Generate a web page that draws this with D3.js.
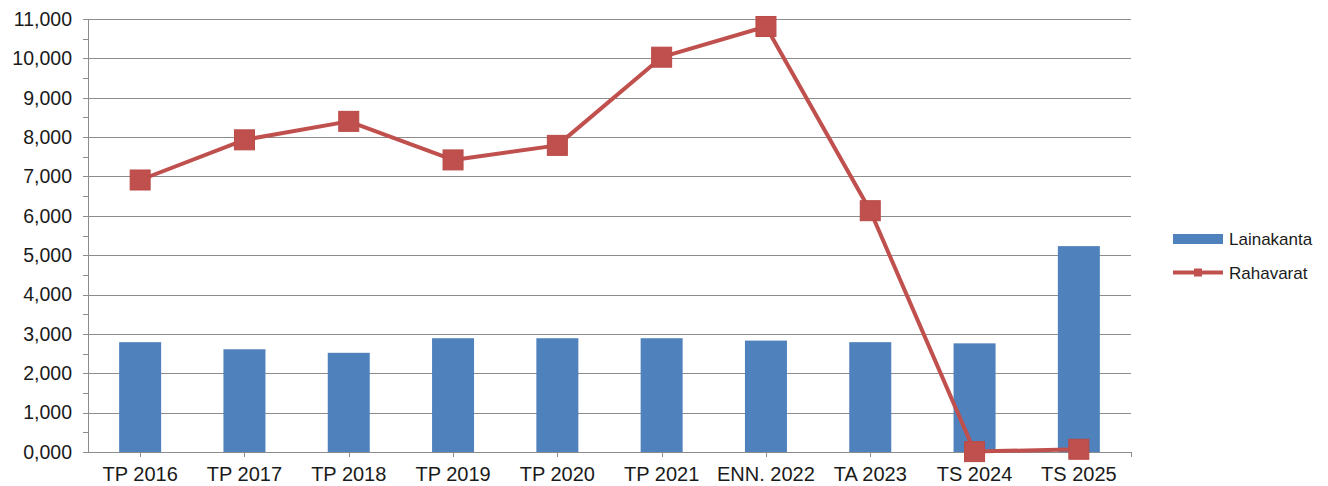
<!DOCTYPE html>
<html>
<head>
<meta charset="utf-8">
<script src="https://cdn.jsdelivr.net/npm/d3@7"></script>
<style>
html,body{margin:0;padding:0;background:#fff;}
svg{display:block;font-family:"Liberation Sans",Arial,sans-serif;}
</style>
</head>
<body>
<svg id="chart" width="1328" height="486"></svg>
<script>
const categories = ["TP 2016","TP 2017","TP 2018","TP 2019","TP 2020","TP 2021","ENN. 2022","TA 2023","TS 2024","TS 2025"];
const lainakanta = [2790, 2610, 2520, 2890, 2890, 2890, 2830, 2790, 2760, 5230];
const rahavarat = [6910, 7930, 8400, 7420, 7790, 10030, 10810, 6130, 10, 70];
const seriesNames = ["Lainakanta","Rahavarat"];
const yTicks = d3.range(0, 11001, 1000);
const yMinorTicks = d3.range(500, 11000, 1000);

(function(){
const svg = d3.select("#chart");
const mLeft = 88, mRight = 1131, mTop = 19, mBottom = 452;

const xc = d3.scalePoint().domain(categories).range([mLeft, mRight]).padding(0.5);
const y = d3.scaleLinear().domain([0, 11000]).range([mBottom, mTop]);

// gridlines
svg.append("g").selectAll("line").data(yTicks.filter(d=>d>0)).join("line")
  .attr("x1", mLeft - 5).attr("x2", mRight)
  .attr("y1", d=>Math.round(y(d))+0.5).attr("y2", d=>Math.round(y(d))+0.5)
  .attr("stroke", "#8c8c8c").attr("stroke-width", 1);

// y minor ticks
svg.append("g").selectAll("line").data(yMinorTicks).join("line")
  .attr("x1", mLeft - 5).attr("x2", mLeft)
  .attr("y1", d=>Math.round(y(d))+0.5).attr("y2", d=>Math.round(y(d))+0.5)
  .attr("stroke", "#8c8c8c");

// y axis line
svg.append("line").attr("x1", mLeft+0.5).attr("x2", mLeft+0.5).attr("y1", mTop).attr("y2", mBottom)
  .attr("stroke", "#8c8c8c");

// y labels
svg.append("g").selectAll("text").data(yTicks).join("text")
  .attr("x", 72).attr("y", d=>y(d)).attr("dy", "0.35em")
  .attr("text-anchor", "end").attr("font-size", 19.5).attr("fill", "#1a1a1a")
  .text(d => d3.format(",")(d/1000) + ",000");

// bars
svg.append("g").selectAll("rect").data(lainakanta).join("rect")
  .attr("x", (d,i)=>xc(categories[i]) - 21)
  .attr("width", 42)
  .attr("y", d=>y(d)).attr("height", d=>mBottom - y(d))
  .attr("fill", "#4f81bd");

// x axis line
svg.append("line").attr("x1", mLeft - 5).attr("x2", mRight).attr("y1", mBottom+0.5).attr("y2", mBottom+0.5)
  .attr("stroke", "#8c8c8c");
// x ticks
svg.append("g").selectAll("line").data(categories.map(c=>xc(c)).concat([mRight])).join("line")
  .attr("x1", d=>Math.round(d)+0.5).attr("x2", d=>Math.round(d)+0.5)
  .attr("y1", mBottom).attr("y2", mBottom+5).attr("stroke", "#8c8c8c");
// x labels
svg.append("g").selectAll("text").data(categories).join("text")
  .attr("x", d=>xc(d)).attr("y", 481)
  .attr("text-anchor", "middle").attr("font-size", 20).attr("fill", "#1a1a1a")
  .text(d=>d);

// line
const line = d3.line().x((d,i)=>xc(categories[i])).y(d=>y(d));
svg.append("path").datum(rahavarat).attr("d", line)
  .attr("fill", "none").attr("stroke", "#c0504d").attr("stroke-width", 4).attr("stroke-linejoin", "round");
svg.append("g").selectAll("rect").data(rahavarat).join("rect")
  .attr("x", (d,i)=>xc(categories[i]) - 10).attr("y", d=>y(d) - 10)
  .attr("width", 20).attr("height", 20)
  .attr("fill", "#c0504d").attr("stroke", "#b94a47").attr("stroke-width", 1);

// legend
const lg = svg.append("g");
lg.append("rect").attr("x", 1173).attr("y", 234).attr("width", 50).attr("height", 10).attr("fill", "#4f81bd");
lg.append("text").attr("x", 1229).attr("y", 245).attr("font-size", 17).attr("fill", "#1a1a1a").text(seriesNames[0]);
lg.append("line").attr("x1", 1173).attr("x2", 1223).attr("y1", 272.5).attr("y2", 272.5)
  .attr("stroke", "#c0504d").attr("stroke-width", 4);
lg.append("rect").attr("x", 1194).attr("y", 268.5).attr("width", 8).attr("height", 8).attr("fill", "#c0504d");
lg.append("text").attr("x", 1229).attr("y", 278.5).attr("font-size", 17).attr("fill", "#1a1a1a").text(seriesNames[1]);
})();
</script>
</body>
</html>
